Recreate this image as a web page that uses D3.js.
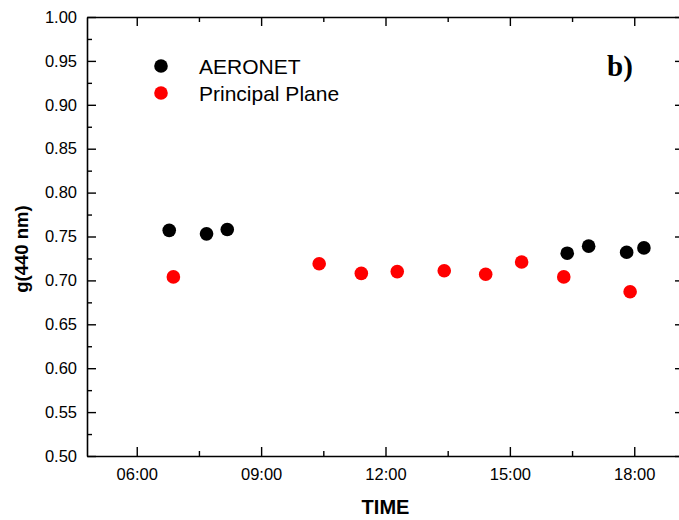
<!DOCTYPE html>
<html>
<head>
<meta charset="utf-8">
<script src="https://cdn.jsdelivr.net/npm/d3@7"></script>
<style>
  html, body { margin: 0; padding: 0; background: #fff; }
  svg { display: block; }
</style>
</head>
<body>
<svg id="chart" width="679" height="520"></svg>
<script>
// Asymmetry parameter g at 440 nm over the day
const aeronetTimes  = ["06:47", "07:41", "08:11", "16:23", "16:54", "17:49", "18:14"];
const aeronetValues = [0.757, 0.753, 0.758, 0.731, 0.739, 0.732, 0.737];

const ppTimes  = ["06:53", "10:24", "11:25", "12:17", "13:25", "14:25", "15:17", "16:18", "17:54"];
const ppValues = [0.704, 0.719, 0.708, 0.710, 0.711, 0.707, 0.721, 0.704, 0.687];

const xTickHours  = [6, 9, 12, 15, 18];
const xMinorHours = [7.5, 10.5, 13.5, 16.5];
const yTicks      = [0.50, 0.55, 0.60, 0.65, 0.70, 0.75, 0.80, 0.85, 0.90, 0.95, 1.00];
const yMinor      = [0.525, 0.575, 0.625, 0.675, 0.725, 0.775, 0.825, 0.875, 0.925, 0.975];

const seriesNames  = ["AERONET", "Principal Plane"];
const seriesColors = ["#000000", "#ff0000"];

const toHours = s => { const [h, m] = s.split(":").map(Number); return h + m / 60; };
const fmtHour = h => String(Math.floor(h)).padStart(2, "0") + ":00";

const svg = d3.select("#chart");
const plotLeft = 87, plotRight = 684, plotTop = 17, plotBottom = 456;

const x = d3.scaleLinear().domain([4.8, 19.2]).range([plotLeft, plotRight]);
const y = d3.scaleLinear().domain([0.5, 1.0]).range([plotBottom, plotTop]);

const tickFont = "Arial, 'Liberation Sans', sans-serif";

// Bottom axis
const xAxis = d3.axisBottom(x).tickValues(xTickHours).tickFormat(fmtHour)
  .tickSizeInner(-9).tickSizeOuter(0).tickPadding(12);
const gx = svg.append("g").attr("transform", `translate(0,${plotBottom})`).call(xAxis);
gx.selectAll("text").attr("font-size", 16.5).attr("font-family", tickFont).attr("fill", "#000");
gx.append("g").call(d3.axisBottom(x).tickValues(xMinorHours).tickFormat("").tickSizeInner(-5).tickSizeOuter(0))
  .select(".domain").remove();

// Top axis
const gxt = svg.append("g").attr("transform", `translate(0,${plotTop})`)
  .call(d3.axisTop(x).tickValues(xTickHours).tickFormat("").tickSizeInner(-9).tickSizeOuter(0));
gxt.append("g").call(d3.axisTop(x).tickValues(xMinorHours).tickFormat("").tickSizeInner(-5).tickSizeOuter(0))
  .select(".domain").remove();

// Left axis
const yAxis = d3.axisLeft(y).tickValues(yTicks).tickFormat(d3.format(".2f"))
  .tickSizeInner(-9).tickSizeOuter(0).tickPadding(10);
const gy = svg.append("g").attr("transform", `translate(${plotLeft},0)`).call(yAxis);
gy.selectAll("text").attr("font-size", 16.5).attr("font-family", tickFont).attr("fill", "#000");
gy.append("g").call(d3.axisLeft(y).tickValues(yMinor).tickFormat("").tickSizeInner(-5).tickSizeOuter(0))
  .select(".domain").remove();

// Right axis
const gyr = svg.append("g").attr("transform", `translate(${plotRight},0)`)
  .call(d3.axisRight(y).tickValues(yTicks).tickFormat("").tickSizeInner(-9).tickSizeOuter(0));
gyr.append("g").call(d3.axisRight(y).tickValues(yMinor).tickFormat("").tickSizeInner(-5).tickSizeOuter(0))
  .select(".domain").remove();

svg.selectAll(".domain").attr("stroke", "#000").attr("stroke-width", 1.6);
svg.selectAll(".tick line").attr("stroke", "#000").attr("stroke-width", 1.4);

// Data points
const aeronet = aeronetTimes.map((t, i) => ({ h: toHours(t), v: aeronetValues[i] }));
const pp = ppTimes.map((t, i) => ({ h: toHours(t), v: ppValues[i] }));

svg.append("g").selectAll("circle").data(aeronet).join("circle")
  .attr("cx", d => x(d.h)).attr("cy", d => y(d.v)).attr("r", 6.8).attr("fill", seriesColors[0]);
svg.append("g").selectAll("circle").data(pp).join("circle")
  .attr("cx", d => x(d.h)).attr("cy", d => y(d.v)).attr("r", 6.8).attr("fill", seriesColors[1]);

// Legend
const legend = svg.append("g");
seriesNames.forEach((name, i) => {
  const ly = 66 + i * 27;
  legend.append("circle").attr("cx", 161).attr("cy", ly).attr("r", 6.8).attr("fill", seriesColors[i]);
  legend.append("text").attr("x", 199).attr("y", ly + 7.5)
    .attr("font-family", tickFont).attr("font-size", 21).attr("fill", "#000").text(name);
});

// Panel tag
svg.append("text").attr("x", 607).attr("y", 76)
  .attr("font-family", "'Liberation Serif', 'Times New Roman', serif")
  .attr("font-weight", "bold").attr("font-size", 29).attr("fill", "#000").text("b)");

// Axis titles
svg.append("text").attr("x", (plotLeft + plotRight) / 2).attr("y", 514).attr("text-anchor", "middle")
  .attr("font-family", tickFont).attr("font-weight", "bold").attr("font-size", 20).attr("fill", "#000")
  .text("TIME");
svg.append("text").attr("transform", "translate(28,249) rotate(-90)").attr("text-anchor", "middle")
  .attr("font-family", tickFont).attr("font-weight", "bold").attr("font-size", 18.5).attr("fill", "#000")
  .text("g(440 nm)");
</script>
</body>
</html>
